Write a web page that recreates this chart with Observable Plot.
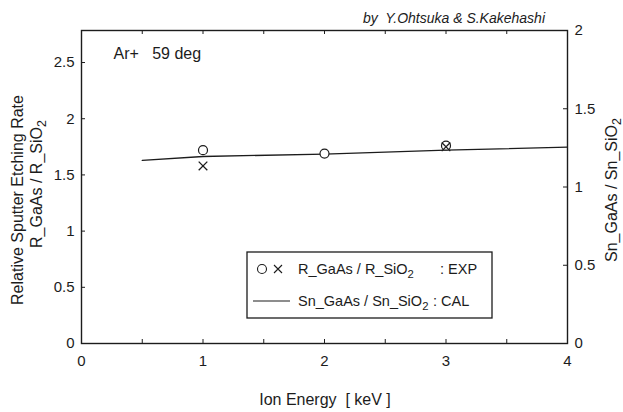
<!DOCTYPE html>
<html>
<head>
<meta charset="utf-8">
<script src="https://cdn.jsdelivr.net/npm/d3@7"></script>
<script src="https://cdn.jsdelivr.net/npm/@observablehq/plot@0.6"></script>
<style>
  html, body { margin: 0; padding: 0; background: #fff; }
  #chart { width: 623px; height: 412px; }
</style>
</head>
<body>
<div id="chart"></div>
<script>
// Experimental etching-rate ratio R_GaAs / R_SiO2 (left axis)
const circleEnergy = [1, 2, 3];
const circleRatio = [1.72, 1.69, 1.76];
const crossEnergy = [1, 3];
const crossRatio = [1.58, 1.75];

// Calculated sputter-yield ratio Sn_GaAs / Sn_SiO2 (right axis)
const calcEnergy = [0.5, 1, 2, 3, 4];
const calcRatio = [1.17, 1.195, 1.21, 1.235, 1.255];

// Axis ticks
const xLabelTicks = [0, 1, 2, 3, 4];
const xMinorTicks = [0, 0.5, 1, 1.5, 2, 2.5, 3, 3.5, 4];
const leftTicks = [0, 0.5, 1, 1.5, 2, 2.5];
const rightTicks = [0, 0.5, 1, 1.5, 2];

const leftMax = 2.785;
const rightMax = 2;
const k = leftMax / rightMax; // right-axis value -> left-axis units

const W = 623, H = 412;
const mT = 30, mB = 69, mL = 81, mR = 56;
const innerW = W - mL - mR, innerH = H - mT - mB;
const tickLen = 4;

const fmt = v => String(Math.round(v * 100) / 100);
const ink = "#1c1c1c";

const circles = circleEnergy.map((e, i) => ({energy: e, ratio: circleRatio[i]}));
const crosses = crossEnergy.map((e, i) => ({energy: e, ratio: crossRatio[i]}));
const calc = calcEnergy.map((e, i) => ({energy: e, ratio: calcRatio[i] * k}));
const rightScaled = rightTicks.map(v => v * k);

const chart = Plot.plot({
  width: W,
  height: H,
  marginTop: mT,
  marginBottom: mB,
  marginLeft: mL,
  marginRight: mR,
  style: {fontFamily: "'Liberation Sans', Arial, sans-serif", fontSize: "15px", color: ink, background: "#fff"},
  x: {domain: [0, 4]},
  y: {domain: [0, leftMax]},
  marks: [
    Plot.frame({stroke: ink, strokeWidth: 1.4}),
    // tick labels
    Plot.axisX(xLabelTicks, {anchor: "bottom", tickSize: 0, tickPadding: 12, tickFormat: fmt, fontSize: 15, label: null}),
    Plot.axisY(leftTicks, {anchor: "left", tickSize: 0, tickPadding: 7, tickFormat: fmt, fontSize: 15, label: null}),
    Plot.axisY(rightScaled, {anchor: "right", tickSize: 0, tickPadding: 7, tickFormat: d => fmt(d / k), fontSize: 15, label: null}),
    // short inward tick marks on all four sides
    Plot.tickX(xMinorTicks, {x: d => d, insetTop: innerH - tickLen, stroke: ink}),
    Plot.tickX(xMinorTicks, {x: d => d, insetBottom: innerH - tickLen, stroke: ink}),
    Plot.tickY(leftTicks, {y: d => d, insetRight: innerW - tickLen, stroke: ink}),
    Plot.tickY(rightScaled, {y: d => d, insetLeft: innerW - tickLen, stroke: ink}),
    // calculated curve
    Plot.line(calc, {x: "energy", y: "ratio", stroke: ink, strokeWidth: 1.3}),
    // experimental points
    Plot.dot(circles, {x: "energy", y: "ratio", symbol: "circle", r: 4.5, stroke: ink, fill: "#fff", strokeWidth: 1.2}),
    Plot.dot(crosses, {x: "energy", y: "ratio", symbol: "times", r: 4, stroke: ink, strokeWidth: 1.3}),
    Plot.text(["Ar+\u00a0\u00a0\u00a059 deg"], {frameAnchor: "top-left", dx: 32, dy: 17, textAnchor: "start", fontSize: 16, fill: ink})
  ]
});

document.getElementById("chart").appendChild(chart);

const svg = d3.select(chart);
const font = "'Liberation Sans', Arial, sans-serif";

// text with a subscript "2" on SiO2
function subText(g, parts) {
  parts.forEach(p => {
    if (p.sub) {
      g.append("tspan").attr("dy", "0.35em").attr("font-size", "0.78em").text(p.t);
    } else {
      g.append("tspan").text(p.t);
    }
  });
}

// byline
svg.append("text")
  .attr("x", 545).attr("y", 23)
  .attr("text-anchor", "end")
  .attr("font-family", font).attr("font-style", "italic").attr("font-size", 14)
  .attr("fill", ink)
  .text("by  Y.Ohtsuka & S.Kakehashi");

// left axis title (two lines)
svg.append("text")
  .attr("transform", "translate(23,200) rotate(-90)")
  .attr("text-anchor", "middle")
  .attr("font-family", font).attr("font-size", 16).attr("fill", ink)
  .text("Relative Sputter Etching Rate");
subText(
  svg.append("text")
    .attr("transform", "translate(42,184) rotate(-90)")
    .attr("text-anchor", "middle")
    .attr("font-family", font).attr("font-size", 16).attr("fill", ink),
  [{t: "R_GaAs / R_SiO"}, {t: "2", sub: true}]
);

// right axis title
subText(
  svg.append("text")
    .attr("transform", "translate(617,190) rotate(-90)")
    .attr("text-anchor", "middle")
    .attr("font-family", font).attr("font-size", 16).attr("fill", ink),
  [{t: "Sn_GaAs / Sn_SiO"}, {t: "2", sub: true}]
);

// x axis title
svg.append("text")
  .attr("x", 325).attr("y", 405)
  .attr("text-anchor", "middle")
  .attr("font-family", font).attr("font-size", 16).attr("fill", ink)
  .text("Ion Energy  [ keV ]");

// legend
const lg = svg.append("g")
  .attr("font-family", font).attr("font-size", 14.5).attr("fill", ink)
  .attr("text-anchor", "start");
lg.append("rect")
  .attr("x", 247).attr("y", 252).attr("width", 245).attr("height", 66)
  .attr("fill", "#fff").attr("stroke", ink).attr("stroke-width", 1.3);
lg.append("circle").attr("cx", 262).attr("cy", 269).attr("r", 4.5)
  .attr("fill", "none").attr("stroke", ink).attr("stroke-width", 1.1);
lg.append("path").attr("d", "M274,265L282,273M274,273L282,265")
  .attr("stroke", ink).attr("stroke-width", 1.1);
subText(lg.append("text").attr("x", 298).attr("y", 274),
  [{t: "R_GaAs / R_SiO"}, {t: "2", sub: true}]);
lg.append("text").attr("x", 440).attr("y", 274).text(": EXP");
lg.append("line").attr("x1", 253).attr("x2", 290).attr("y1", 301).attr("y2", 301)
  .attr("stroke", ink).attr("stroke-width", 1.2);
subText(lg.append("text").attr("x", 298).attr("y", 306),
  [{t: "Sn_GaAs / Sn_SiO"}, {t: "2", sub: true}]);
lg.append("text").attr("x", 433).attr("y", 306).text(": CAL");
</script>
</body>
</html>
